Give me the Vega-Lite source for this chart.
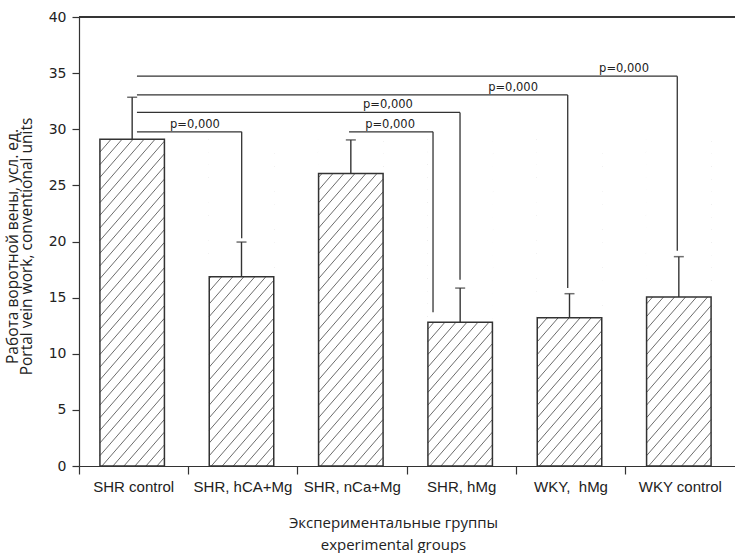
{
  "$schema": "https://vega.github.io/schema/vega-lite/v6.json",
  "width": 656,
  "height": 449,
  "autosize": {"type": "none"},
  "padding": {"left": 79, "top": 17, "right": 0, "bottom": 87},
  "background": "white",
  "config": {"view": {"stroke": null}, "font": "DejaVu Sans"},
  "datasets": {
    "bars": [
      {"group": "SHR control", "value": 29.1, "upper": 32.85},
      {"group": "SHR, hCA+Mg", "value": 16.85, "upper": 19.95},
      {"group": "SHR, nCa+Mg", "value": 26.05, "upper": 29.05},
      {"group": "SHR, hMg", "value": 12.8, "upper": 15.85},
      {"group": "WKY, \u00a0hMg", "value": 13.2, "upper": 15.35},
      {"group": "WKY control", "value": 15.05, "upper": 18.65}
    ],
    "brackets": [
      {"pair": "SHR control vs SHR, hCA+Mg", "x1": 0.53, "x2": 1.488, "level": 29.77, "bottom": 20.3, "labelX": 1.06, "label": "p=0,000"},
      {"pair": "SHR, nCa+Mg vs SHR, hMg", "x1": 2.47, "x2": 3.238, "level": 29.77, "bottom": 13.7, "labelX": 2.845, "label": "p=0,000"},
      {"pair": "SHR control vs SHR, hMg", "x1": 0.53, "x2": 3.485, "level": 31.5, "bottom": 16.6, "labelX": 2.826, "label": "p=0,000"},
      {"pair": "SHR control vs WKY, hMg", "x1": 0.53, "x2": 4.47, "level": 33.06, "bottom": 15.85, "labelX": 3.97, "label": "p=0,000"},
      {"pair": "SHR control vs WKY control", "x1": 0.53, "x2": 5.472, "level": 34.73, "bottom": 19.17, "labelX": 4.985, "label": "p=0,000"}
    ]
  },
  "layer": [
    {
      "data": {"name": "bars"},
      "layer": [
        {
          "mark": {
            "type": "point",
            "shape": "M-32.25,-102.1L-29.7,-105M-32.25,-89.4L-18.7,-105M-32.25,-76.8L-7.7,-105M-32.25,-64.1L3.3,-105M-32.25,-51.5L14.3,-105M-32.25,-38.8L25.3,-105M-32.25,-26.2L32.25,-100.3M-32.25,-13.5L32.25,-87.7M-32.25,-0.9L32.25,-75M-32.25,11.8L32.25,-62.4M-32.25,24.4L32.25,-49.7M-32.25,37.1L32.25,-37.1M-32.25,49.7L32.25,-24.4M-32.25,62.4L32.25,-11.8M-32.25,75L32.25,0.9M-32.25,87.7L32.25,13.5M-32.25,100.3L32.25,26.2M-32.25,113L32.25,38.8M-32.25,125.6L32.25,51.5M-32.25,138.3L32.25,64.1M-32.25,150.9L32.25,76.8M-32.25,163.6L32.25,89.4M-32.25,176.2L32.25,102.1M-32.25,188.9L32.25,114.7M-32.25,201.5L32.25,127.4M-32.25,214.2L32.25,140M-30.2,224.5L32.25,152.7M-19.2,224.5L32.25,165.3M-8.2,224.5L32.25,178M2.8,224.5L32.25,190.6M13.8,224.5L32.25,203.3M24.8,224.5L32.25,215.9",
            "size": 4,
            "filled": false,
            "stroke": "#5a5a5a",
            "strokeWidth": 0.9,
            "opacity": 1,
            "xOffset": -1.5
          },
          "encoding": {
            "x": {
              "field": "group",
              "type": "nominal",
              "sort": null,
              "scale": {"type": "band", "paddingInner": 0, "paddingOuter": 0},
              "axis": {
                "bandPosition": 0,
                "labelAngle": 0,
                "tickSize": 8,
                "labelPadding": 5,
                "domainColor": "#333",
                "tickColor": "#333",
                "domainWidth": 1.2,
                "tickWidth": 1.2,
                "labelFont": "Liberation Sans Narrow, Liberation Sans",
                "labelFontSize": 15,
                "labelColor": "#222",
                "title": ["Экспериментальные группы", "experimental groups"],
                "titleFont": "Open Sans",
                "titleFontSize": 15,
                "titleFontWeight": "normal",
                "titleColor": "#222",
                "titleLineHeight": 22,
                "titlePadding": 21,
                "titleX": 314
              }
            },
            "y": {
              "datum": 20,
              "type": "quantitative",
              "scale": {"domain": [0, 40], "nice": false},
              "axis": {
                "values": [0, 5, 10, 15, 20, 25, 30, 35, 40],
                "grid": false,
                "tickSize": 7,
                "labelPadding": 6,
                "domainColor": "#333",
                "tickColor": "#333",
                "domainWidth": 1.2,
                "tickWidth": 1.2,
                "labelFont": "DejaVu Sans",
                "labelFontSize": 14,
                "labelColor": "#222",
                "title": ["Работа воротной вены, усл. ед.", "Portal vein work, conventional units"],
                "titleFont": "Open Sans",
                "titleFontSize": 15.5,
                "titleFontWeight": "normal",
                "titleColor": "#222",
                "titleLineHeight": 14,
                "titleX": -59,
                "titleY": 229
              }
            }
          }
        },
        {
          "mark": {"type": "bar", "color": "white", "width": {"band": 0.6}, "xOffset": -1.5},
          "encoding": {
            "x": {"field": "group", "type": "nominal", "sort": null},
            "y": {"field": "value", "type": "quantitative"},
            "y2": {"datum": 29.5}
          }
        },
        {
          "mark": {"type": "bar", "fill": "white", "fillOpacity": 0, "stroke": "#333", "strokeWidth": 1.5, "width": {"band": 0.59}, "xOffset": -1.5},
          "encoding": {
            "x": {"field": "group", "type": "nominal", "sort": null},
            "y": {"field": "value", "type": "quantitative"}
          }
        },
        {
          "mark": {"type": "rule", "color": "#333", "strokeWidth": 1.4, "xOffset": -1.5},
          "encoding": {
            "x": {"field": "group", "type": "nominal", "sort": null},
            "y": {"field": "value", "type": "quantitative"},
            "y2": {"field": "upper"}
          }
        },
        {
          "mark": {"type": "tick", "color": "#333", "size": 10, "thickness": 1.5, "xOffset": -1.5},
          "encoding": {
            "x": {"field": "group", "type": "nominal", "sort": null},
            "y": {"field": "upper", "type": "quantitative"}
          }
        },
        {
          "mark": {"type": "rule", "color": "#333", "strokeWidth": 1.2},
          "encoding": {
            "y": {"datum": 40, "type": "quantitative"}
          }
        }
      ]
    },
    {
      "data": {"name": "brackets"},
      "layer": [
        {
          "mark": {"type": "rule", "color": "#333", "strokeWidth": 1.3},
          "encoding": {
            "x": {"field": "x1", "type": "quantitative", "scale": {"domain": [0, 6], "nice": false, "zero": false}, "axis": null},
            "x2": {"field": "x2"},
            "y": {"field": "level", "type": "quantitative"}
          }
        },
        {
          "mark": {"type": "rule", "color": "#333", "strokeWidth": 1.3},
          "encoding": {
            "x": {"field": "x2", "type": "quantitative", "axis": null},
            "y": {"field": "level", "type": "quantitative"},
            "y2": {"field": "bottom"}
          }
        },
        {
          "mark": {"type": "text", "font": "DejaVu Sans", "fontSize": 11.5, "color": "#222", "baseline": "alphabetic", "align": "center", "dy": -4},
          "encoding": {
            "x": {"field": "labelX", "type": "quantitative", "axis": null},
            "y": {"field": "level", "type": "quantitative"},
            "text": {"field": "label"}
          }
        }
      ]
    }
  ],
  "resolve": {"scale": {"x": "independent"}}
}
